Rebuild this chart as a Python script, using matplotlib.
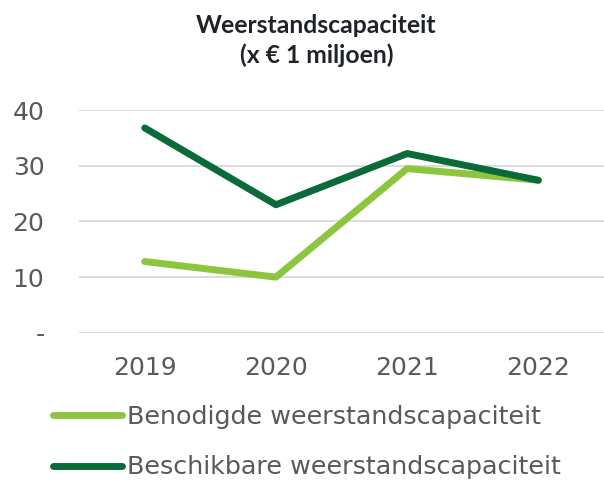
import matplotlib.pyplot as plt

years = ['2019', '2020', '2021', '2022']
benodigd = [12.8, 10.0, 29.5, 27.4]
beschikbaar = [36.8, 23.0, 32.2, 27.4]
y_ticks = [0, 10, 20, 30, 40]
y_labels = ['-', '10', '20', '30', '40']

light_green = '#8cc63f'
dark_green = '#0b6b38'
text_col = '#595959'

fig = plt.figure(figsize=(6.04, 4.83), dpi=100)
ax = fig.add_axes([0.131, 0.311, 0.869, 0.461])

x = range(len(years))
ax.plot(x, benodigd, color=light_green, lw=5, solid_capstyle='round',
        label='Benodigde weerstandscapaciteit')
ax.plot(x, beschikbaar, color=dark_green, lw=5, solid_capstyle='round',
        label='Beschikbare weerstandscapaciteit')

ax.set_xlim(-0.5, 3.5)
ax.set_ylim(0, 40)
ax.set_xticks(list(x))
ax.set_xticklabels(years)
ax.set_yticks(y_ticks)
ax.set_yticklabels(y_labels)
ax.grid(axis='y', color='#d9d9d9', lw=1.3)
ax.set_axisbelow(True)
for s in ax.spines.values():
    s.set_visible(False)
ax.tick_params(length=0, labelsize=18, colors=text_col)
ax.tick_params(axis='y', pad=25)
ax.tick_params(axis='x', pad=17)

# title, two lines
fig.text(0.524, 1 - 33 / 483, 'Weerstandscapaciteit', ha='center', va='baseline',
         fontsize=17.8, fontweight='bold', family='Lato', color='#1f2328')
fig.text(0.524, 1 - 63 / 483, '(x € 1 miljoen)', ha='center', va='baseline',
         fontsize=17.8, fontweight='bold', family='Lato', color='#1f2328')

fig.legend(loc='upper left', bbox_to_anchor=(0.088, 0.162), frameon=False,
           borderpad=0, borderaxespad=0,
           fontsize=18.3, handlelength=2.7, handletextpad=0.2, labelspacing=1.05,
           labelcolor=text_col)

fig.savefig('out.png', dpi=100)
